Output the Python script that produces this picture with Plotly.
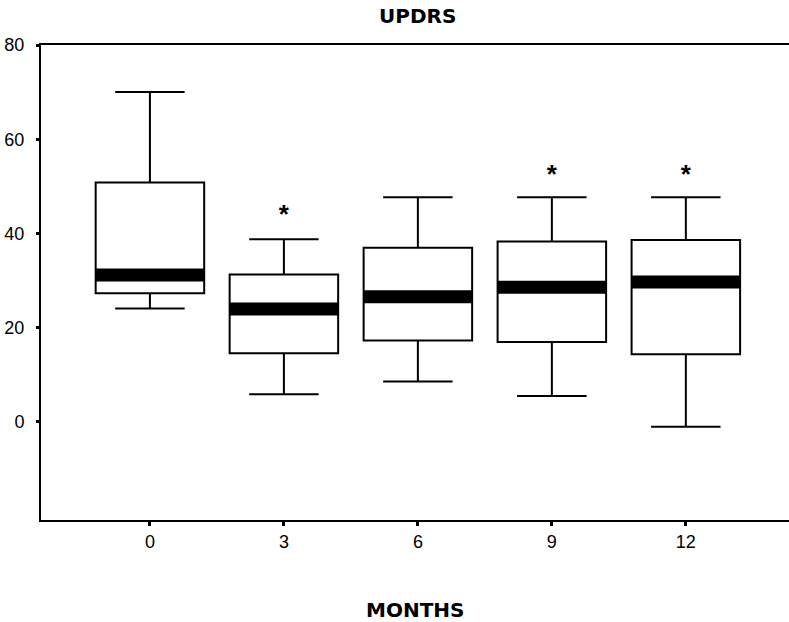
import plotly.graph_objects as go

months = ["0", "3", "6", "9", "12"]
xpos = [0, 1, 2, 3, 4]
lower_whisker = [24.1, 5.9, 8.6, 5.5, -1.0]
q1 = [27.3, 14.6, 17.3, 17.0, 14.4]
median = [31.2, 24.0, 26.6, 28.6, 29.7]
q3 = [50.8, 31.3, 37.0, 38.3, 38.6]
upper_whisker = [70.0, 38.8, 47.7, 47.7, 47.7]
star_x = [1, 3, 4]
star_y = [43.7, 52.0, 52.0]

box_w = 0.81
fig = go.Figure()
fig.add_trace(go.Box(
    x=xpos, q1=q1, median=median, q3=q3,
    lowerfence=lower_whisker, upperfence=upper_whisker,
    width=box_w, whiskerwidth=0.64,
    fillcolor="white", line=dict(color="black", width=2),
    showlegend=False, hoverinfo="skip",
))
mx, my = [], []
for x, m in zip(xpos, median):
    mx += [x - box_w / 2, x + box_w / 2, None]
    my += [m, m, None]
fig.add_trace(go.Scatter(x=mx, y=my, mode="lines",
                         line=dict(color="black", width=13),
                         showlegend=False, hoverinfo="skip"))
fig.add_trace(go.Scatter(x=star_x, y=star_y, mode="text", text=["<b>*</b>"] * len(star_x),
                         textposition="middle center",
                         textfont=dict(family="Liberation Sans", size=26, color="black"),
                         showlegend=False, hoverinfo="skip"))

fig.update_layout(
    width=789, height=622,
    margin=dict(l=41, r=0, t=45, b=102),
    paper_bgcolor="white", plot_bgcolor="white",
    font=dict(family="Liberation Sans", size=18, color="black"),
    annotations=[
        dict(text="<b>UPDRS</b>", x=417, y=15.5, xref="paper", yref="paper",
             showarrow=False, font=dict(family="DejaVu Sans", size=20)),
        dict(text="<b>MONTHS</b>", x=415, y=610, xref="paper", yref="paper",
             showarrow=False, font=dict(family="DejaVu Sans", size=20)),
    ],
    xaxis=dict(range=[-0.813, 4.77], tickmode="array", tickvals=xpos, ticktext=months,
               showline=True, linecolor="black", linewidth=2, mirror=True,
               ticks="outside", ticklen=4, tickwidth=3, tickcolor="black",
               tickfont=dict(family="Liberation Sans", size=18),
               showgrid=False, zeroline=False),
    yaxis=dict(range=[-20.8, 80], tickvals=[0, 20, 40, 60, 80],
               showline=True, linecolor="black", linewidth=2,
               ticks="outside", ticklen=3, tickwidth=3, tickcolor="black",
               tickfont=dict(family="Liberation Sans", size=18),
               ticklabelstandoff=8,
               showgrid=False, zeroline=False),
)
pw = 789 - 41 - 0
ph = 622 - 45 - 102
for a in fig.layout.annotations:
    a.x = (a.x - 41) / pw
    a.y = (622 - 102 - a.y) / ph
    a.xanchor = "center"
    a.yanchor = "middle"
fig.write_html("out.html")
